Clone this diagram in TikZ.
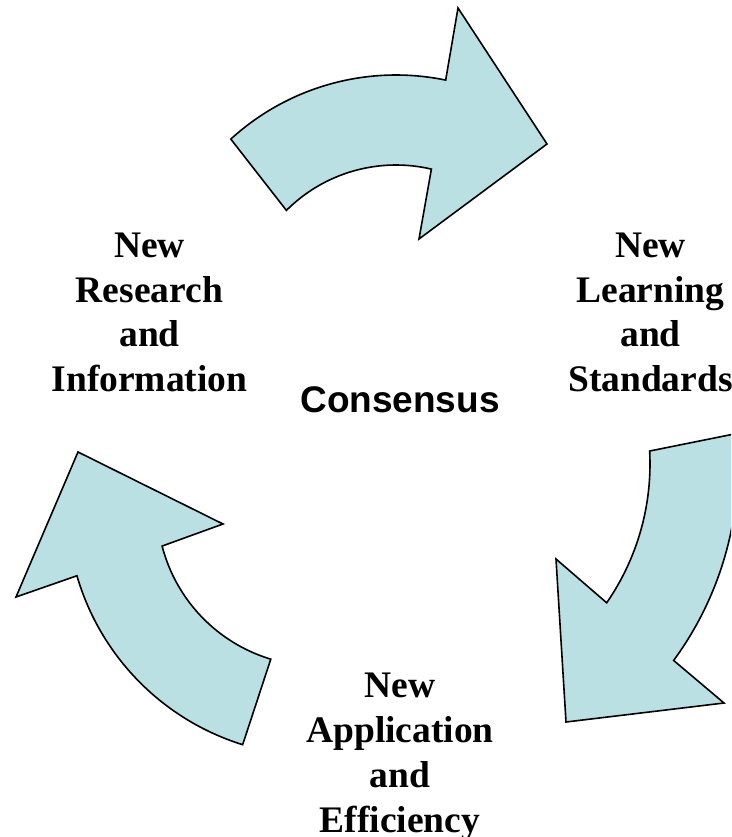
\documentclass[tikz,border=0pt]{standalone}
\usepackage{fontspec}
\setmainfont{Liberation Serif}
\newfontfamily\arialfont{Liberation Sans}
\usetikzlibrary{calc}
\definecolor{arrowfill}{RGB}{187,224,227}
\begin{document}
\begin{tikzpicture}[x=1pt,y=-1pt,
  cyclearrow/.style={fill=arrowfill, draw=black, line width=1.6pt, line join=miter},
  stage/.style={font=\fontsize{37.5}{44.8}\selectfont\bfseries, align=center, inner sep=0pt, anchor=north}]
\useasboundingbox (0,0) rectangle (731,837);
\clip (0,0) rectangle (731,837);
\fill[white] (0,0) rectangle (731,837);
\coordinate (C1) at (396,320);
\coordinate (C2) at (406,464);
\coordinate (C3) at (317,506);
% top arrow
\draw[cyclearrow] ($(C1)+(-132.4:245)$) arc[start angle=-132.4, end angle=-78.3, radius=245]
  -- (458,8) -- (547,144) -- (419,239) -- ($(C1)+(-76.8:155)$)
  arc[start angle=-76.8, end angle=-135, radius=155] -- cycle;
% right arrow
\draw[cyclearrow] ($(C2)+(-3.05:244)$) arc[start angle=-3.05, end angle=34.67, radius=244]
  -- (556,559) -- (566,722) -- (724,703) -- ($(C2)+(36.28:332)$)
  arc[start angle=36.28, end angle=-5.27, radius=332] -- cycle;
% left arrow
\draw[cyclearrow] ($(C3)+(106.8:160)$) arc[start angle=106.8, end angle=165.5, radius=160]
  -- (223,524) -- (78,452) -- (16,597) -- ($(C3)+(163.8:250)$)
  arc[start angle=163.8, end angle=107.3, radius=250] -- cycle;
% texts
\node[stage] (research) at (149.5,232.5) {New\\Research\\and\\Information};
\node[stage] (learning) at (650.5,232.5) {New\\Learning\\and\\Standards};
\node[stage] (application) at (400,673) {New\\Application\\and\\Efficiency};
\node[font=\arialfont\bfseries\fontsize{37}{44}\selectfont, anchor=base, inner sep=0pt] (consensus) at (400,412) {Consensus};
\end{tikzpicture}
\end{document}
